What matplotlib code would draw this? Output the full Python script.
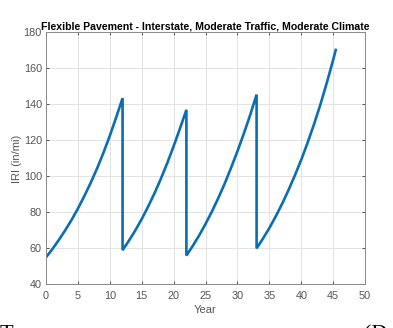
import matplotlib
matplotlib.use("Agg")
import matplotlib.pyplot as plt

# IRI history: four performance cycles separated by rehabilitation events
years_1 = [0, 1, 2, 3, 4, 5, 6, 7, 8, 9, 10, 11, 12]
iri_1 = [55.0, 59.6, 64.6, 70.0, 75.8, 82.1, 89.0, 96.4, 104.4, 113.1, 122.6, 132.8, 143.5]

years_2 = [12, 13, 14, 15, 16, 17, 18, 19, 20, 21, 22]
iri_2 = [59.0, 64.3, 70.0, 76.3, 83.2, 90.6, 98.7, 107.4, 116.8, 126.7, 137.0]

years_3 = [22, 23, 24, 25, 26, 27, 28, 29, 30, 31, 32, 33]
iri_3 = [56.0, 61.4, 67.2, 73.6, 80.5, 88.0, 96.0, 104.8, 114.0, 123.8, 134.2, 145.5]

years_4 = [33, 34, 35, 36, 37, 38, 39, 40, 41, 42, 43, 44, 45, 45.4]
iri_4 = [60.0, 65.5, 71.3, 77.8, 84.8, 92.4, 100.6, 109.3, 118.8, 129.0, 140.0, 152.0, 164.8, 170.3]

x_ticks = [0, 5, 10, 15, 20, 25, 30, 35, 40, 45, 50]
y_ticks = [40, 60, 80, 100, 120, 140, 160, 180]

years = years_1 + years_2 + years_3 + years_4
iri = iri_1 + iri_2 + iri_3 + iri_4

plt.rcParams["font.family"] = ["Liberation Sans", "DejaVu Sans"]

fig = plt.figure(figsize=(3.93, 3.28), dpi=100)
fig.patch.set_facecolor("white")
ax = fig.add_axes([0.117, 0.133, 0.812, 0.768])

ax.plot(years, iri, color="#0A6EB4", linewidth=1.9, solid_joinstyle="miter")

ax.set_xlim(0, 50)
ax.set_ylim(40, 180)
ax.set_xticks(x_ticks)
ax.set_yticks(y_ticks)
ax.grid(True, color="#e3e3e3", linewidth=0.7)
ax.set_axisbelow(True)

gray = "#555555"
for s in ax.spines.values():
    s.set_color("#8a8a8a")
    s.set_linewidth(0.7)
ax.tick_params(direction="in", length=2.5, width=0.7, colors="#555555",
               labelcolor=gray, labelsize=7.8, top=True, right=True, pad=3)
ax.tick_params(axis="x", pad=5)

ax.set_xlabel("Year", fontsize=8, color=gray, labelpad=3)
ax.set_ylabel("IRI (in/mi)", fontsize=8, color=gray, labelpad=1)
ax.set_title("Flexible Pavement - Interstate, Moderate Traffic, Moderate Climate",
             fontsize=7.6, fontweight="bold", color="black", pad=2)

# surrounding page text, cut by the bottom edge
fig.text(0.0, -0.049, "T", fontsize=16, family="Liberation Serif", color="black",
         ha="left", va="bottom")
fig.text(0.925, -0.049, "(D", fontsize=16, family="Liberation Serif", color="black",
         ha="left", va="bottom")

fig.savefig("out.png", dpi=100)
